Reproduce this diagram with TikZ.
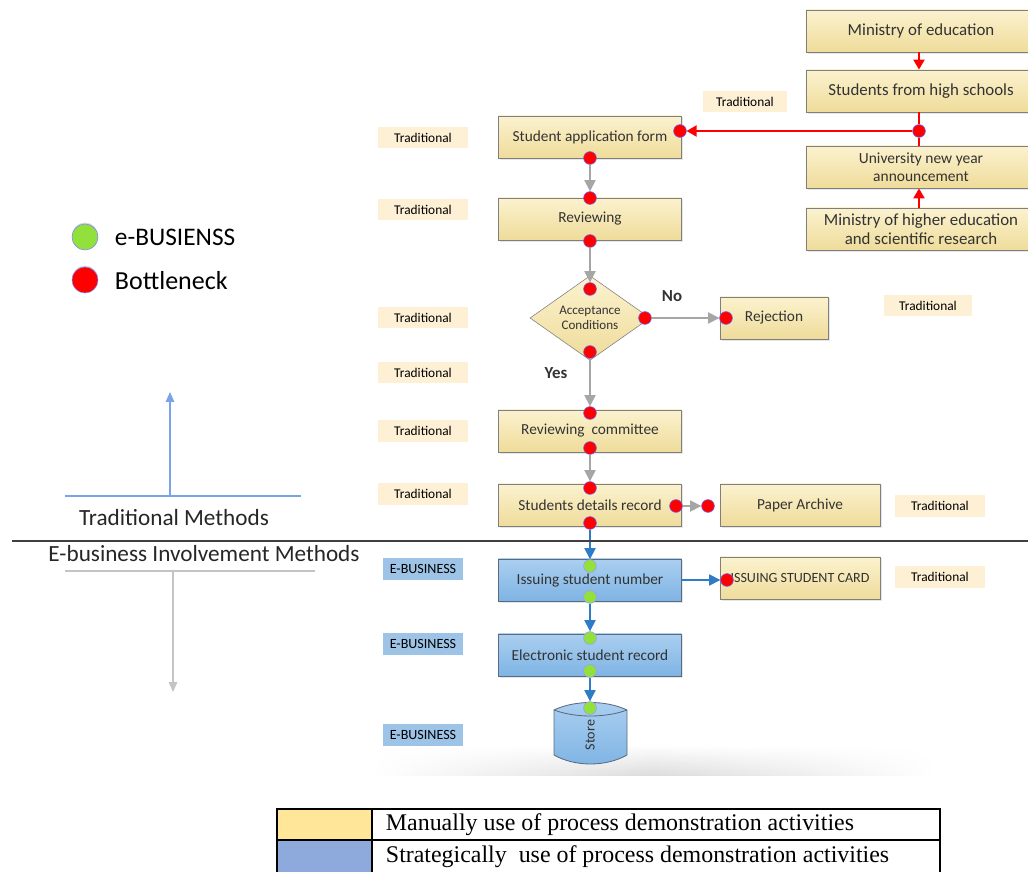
\documentclass[tikz,border=0pt]{standalone}
\usepackage{fontspec}
\setmainfont{Carlito}
\newfontfamily\tabfont{Liberation Serif}
\usetikzlibrary{shapes.geometric,arrows.meta,shadows,fadings}

\definecolor{boxtop}{HTML}{FBF2CF}
\definecolor{boxbot}{HTML}{EFDC9A}
\definecolor{boxline}{HTML}{7F7F7F}
\definecolor{ebtop}{HTML}{ABCFF0}
\definecolor{ebbot}{HTML}{7EB4E4}
\definecolor{ebline}{HTML}{5B6B7F}
\definecolor{tradfill}{HTML}{FDF0D5}
\definecolor{ebfill}{HTML}{9DC3E6}
\definecolor{flowgray}{HTML}{A6A6A6}
\definecolor{flowblue}{HTML}{2E7BC8}
\definecolor{dotgreen}{HTML}{92E03C}
\definecolor{tradline}{HTML}{7BA3EA}
\definecolor{ebline2}{HTML}{C4C4C4}
\definecolor{manual}{HTML}{FFE699}
\definecolor{strateg}{HTML}{8EA9DB}

\tikzfading[name=fade sides, left color=transparent!100,
  right color=transparent!100, middle color=transparent!0]

\tikzset{
  proc/.style={rectangle, draw=boxline, top color=boxtop, bottom color=boxbot,
    minimum width=4.575cm, minimum height=1.06cm, inner sep=2pt,
    font=\fontsize{10.9}{12.5}\selectfont, text=black!80,
    drop shadow={opacity=0.2, shadow xshift=1.2pt, shadow yshift=-1.2pt}},
  eproc/.style={proc, top color=ebtop, bottom color=ebbot, draw=ebline},
  topproc/.style={proc, minimum width=5.75cm, align=center,
    font=\fontsize{12}{13.5}\selectfont},
  tag/.style={fill=tradfill, font=\fontsize{9.5}{11}\selectfont,
    minimum width=2.225cm, minimum height=0.525cm, inner sep=1pt},
  etag/.style={tag, fill=ebfill, minimum width=2cm, font=\fontsize{10}{11}\selectfont},
  bneck/.style={circle, fill=red, draw=blue!60, line width=0.4pt,
    inner sep=0pt, minimum size=0.32cm},
  ebdot/.style={bneck, fill=dotgreen, draw=blue!40},
  flow/.style={draw=flowgray, line width=1pt, -{Triangle[length=8pt,width=8pt]}},
  eflow/.style={flow, draw=flowblue},
  rflow/.style={draw=red, line width=0.8pt, -{Triangle[length=7pt,width=8pt]}},
}

\begin{document}
\begin{tikzpicture}[x=0.025cm, y=-0.025cm]
    \useasboundingbox (0,0) rectangle (1028,872);

    % soft floor under the flow
    \shade[top color=white, bottom color=black!14, path fading=fade sides]
        (372,745) rectangle (935,776);

    % ministries and announcement
    \node[topproc] (moe) at (921,31) {Ministry of education};
    \node[topproc] (hs) at (921,91) {Students from high schools};
    \node[topproc, font=\fontsize{11}{12.5}\selectfont]
        (announce) at (921,167) {University new year\\announcement};
    \node[topproc] (mohe) at (921,229) {Ministry of higher education\\and scientific research};

    % main flow
    \node[proc] (appform) at (590,137) {Student application form};
    \node[proc] (review) at (590,219) {Reviewing};
    \node[diamond, draw=boxline, top color=boxtop, bottom color=boxbot,
        minimum width=3cm, minimum height=1.9cm, inner sep=0pt, align=center,
        font=\fontsize{9.3}{10.5}\selectfont, text=black!80] (accept) at (590,318) {Acceptance\\Conditions};
    \node[proc, minimum width=2.7cm] (reject) at (774,318) {Rejection};
    \node[proc] (committee) at (590,431) {Reviewing\ \ committee};
    \node[proc] (details) at (590,505) {Students details record};
    \node[proc, minimum width=4cm] (archive) at (800,505) {Paper Archive};
    \node[eproc] (issue) at (590,580) {Issuing student number};
    \node[proc, minimum width=4cm, font=\fontsize{10}{12}\selectfont] (card) at (800,578) {ISSUING STUDENT CARD};
    \node[eproc] (erecord) at (590,655) {Electronic student record};

    % store drum
    \shade[top color=ebtop, bottom color=ebbot, draw=ebline, line width=0.6pt]
        (554,710) .. controls (575,700) and (606,700) .. (627,710) -- (627,755)
        .. controls (606,767) and (575,767) .. (554,755) -- cycle;
    \draw[ebline, line width=0.6pt] (554,710) .. controls (575,718) and (606,718) .. (627,710);
    \node[minimum width=1.8cm, minimum height=1.3cm, inner sep=0pt,
        font=\fontsize{10}{11}\selectfont, text=black!80] (store) at (590,735) {\rotatebox{90}{Store}};

    % bottleneck and e-business points
    \node[bneck] (af-r) at (680,131) {};
    \node[bneck] (af-b) at (590,158) {};
    \node[bneck] (rv-t) at (590,198) {};
    \node[bneck] (rv-b) at (590,241) {};
    \node[bneck] (ac-t) at (590,289) {};
    \node[bneck] (ac-r) at (645,318) {};
    \node[bneck] (ac-b) at (590,352) {};
    \node[bneck] (rj-l) at (726,318) {};
    \node[bneck] (cm-t) at (590,413) {};
    \node[bneck] (cm-b) at (590,448) {};
    \node[bneck] (dr-t) at (590,488) {};
    \node[bneck] (dr-r) at (676,506) {};
    \node[bneck] (dr-b) at (590,523) {};
    \node[bneck] (pa-l) at (708,506) {};
    \node[ebdot] (is-t) at (590,566) {};
    \node[ebdot] (is-b) at (590,597) {};
    \node[bneck] (ic-l) at (727,580) {};
    \node[ebdot] (er-t) at (590,638) {};
    \node[ebdot] (er-b) at (590,671) {};
    \node[ebdot] (st-t) at (590,708) {};
    \node[bneck] (hs-j) at (919,131) {};

    % connectors
    \draw[rflow] (moe.south -| hs-j) -- (hs.north -| hs-j);
    \draw[draw=red, line width=0.8pt] (hs.south -| hs-j) -- (hs-j);
    \draw[draw=red, line width=0.8pt] (hs-j) -- (announce.north -| hs-j);
    \draw[rflow] (mohe.north -| hs-j) -- (announce.south -| hs-j);
    \draw[rflow] (hs-j) -- (af-r);
    \draw[flow] (af-b) -- (rv-t);
    \draw[flow] (rv-b) -- (ac-t);
    \draw[flow] (ac-r) -- (rj-l);
    \draw[flow] (ac-b) -- (cm-t);
    \draw[flow] (cm-b) -- (dr-t);
    \draw[flow] (dr-r) -- (pa-l);
    \draw[eflow] (dr-b) -- (is-t);
    \draw[eflow] (issue.east) -- (ic-l);
    \draw[eflow] (is-b) -- (er-t);
    \draw[eflow] (er-b) -- (st-t);

    \node[font=\bfseries\fontsize{12}{14}\selectfont, text=black!80] (no) at (672,296) {No};
    \node[font=\bfseries\fontsize{12}{14}\selectfont, text=black!80] (yes) at (556,373) {Yes};

    % activity tags
    \node[tag, minimum width=2.1cm] (t0) at (745,102) {Traditional};
    \node[tag] (t1) at (423,138) {Traditional};
    \node[tag] (t2) at (423,210) {Traditional};
    \node[tag] (t3) at (423,318) {Traditional};
    \node[tag] (t4) at (423,373) {Traditional};
    \node[tag] (t5) at (423,431) {Traditional};
    \node[tag] (t6) at (423,494) {Traditional};
    \node[tag, minimum width=2.2cm] (t7) at (928,306) {Traditional};
    \node[tag] (t8) at (940,506) {Traditional};
    \node[tag] (t9) at (940,577) {Traditional};
    \node[etag] (e1) at (423,569) {E-BUSINESS};
    \node[etag] (e2) at (423,644) {E-BUSINESS};
    \node[etag] (e3) at (423,735) {E-BUSINESS};

    % legend of points
    \node[circle, fill=dotgreen, draw=blue!50, minimum size=0.65cm, inner sep=0pt,
        drop shadow={opacity=0.3, shadow xshift=0pt, shadow yshift=1pt}] (lg-e) at (85,237) {};
    \node[anchor=west, font=\fontsize{18}{21}\selectfont] (lg-et) at (110,237) {e-BUSIENSS};
    \node[circle, fill=red, draw=blue!50, minimum size=0.65cm, inner sep=0pt,
        drop shadow={opacity=0.3, shadow xshift=0pt, shadow yshift=1pt}] (lg-b) at (85,280) {};
    \node[anchor=west, font=\fontsize{18.5}{21}\selectfont] (lg-bt) at (110,281) {Bottleneck};

    % methods split
    \draw[black!75, line width=0.8pt] (12,541) -- (1028,541);
    \draw[tradline, line width=1pt] (65,496) -- (301,496);
    \coordinate (tm-base) at (170,496);
    \coordinate (tm-tip) at (170,392);
    \draw[tradline, line width=1pt, -{Triangle[length=7pt,width=6pt]}] (tm-base) -- (tm-tip);
    \node[font=\fontsize{16.5}{19}\selectfont, text=black!85] (tm) at (174,518) {Traditional Methods};
    \node[font=\fontsize{16.5}{19}\selectfont, text=black!85] (em) at (204,554) {E-business Involvement Methods};
    \draw[ebline2, line width=1pt] (65,571) -- (315,571);
    \coordinate (em-base) at (173,571);
    \coordinate (em-tip) at (173,692);
    \draw[ebline2, line width=1pt, -{Triangle[length=7pt,width=6pt]}] (em-base) -- (em-tip);

    % colour key
    \fill[manual] (277,809) rectangle (372,840);
    \fill[strateg] (277,840) rectangle (372,874);
    \draw[line width=1pt] (277,809) rectangle (940,874);
    \draw[line width=1pt] (277,840) -- (940,840);
    \draw[line width=1pt] (372,809) -- (372,874);
    \node[anchor=west, font=\tabfont\fontsize{17}{20}\selectfont] (k1) at (381,825) {Manually use of process demonstration activities};
    \node[anchor=west, font=\tabfont\fontsize{17}{20}\selectfont] (k2) at (381,857) {Strategically\ \ use of process demonstration activities};
\end{tikzpicture}
\end{document}
